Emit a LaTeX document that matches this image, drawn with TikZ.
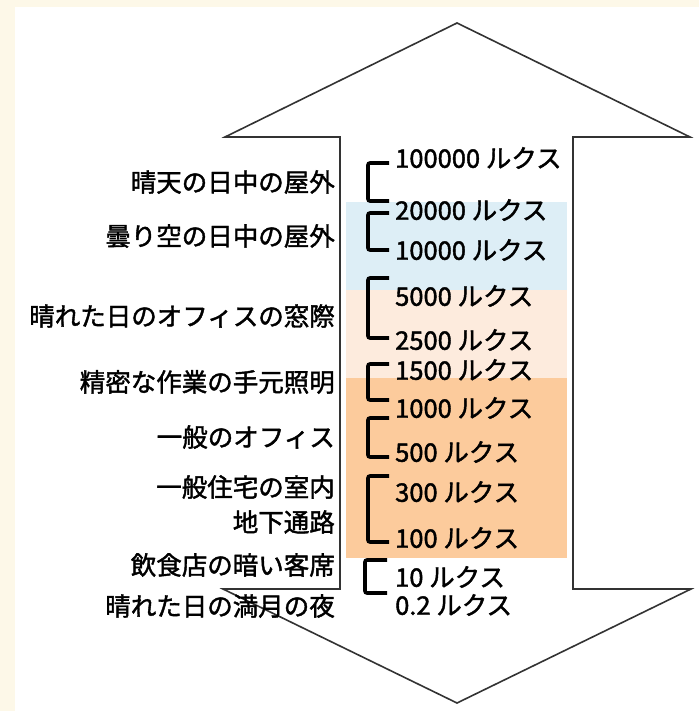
\documentclass[tikz,border=0pt]{standalone}
\usepackage{fontspec}
\setmainfont{Noto Sans CJK JP}[FakeBold=1.6]
\usepackage{xcolor}
\definecolor{cream}{HTML}{FDF8E8}
\definecolor{skyband}{HTML}{DDEEF6}
\definecolor{peachband}{HTML}{FDEBDD}
\definecolor{orangeband}{HTML}{FCCB9C}

\begin{document}
\begin{tikzpicture}[x=1pt,y=-1pt,
    lux/.style={anchor=west,inner sep=0pt,font=\fontsize{25.5}{28}\selectfont},
    place/.style={anchor=east,inner sep=0pt,font=\fontsize{25.5}{28}\selectfont},
    brk/.style={line width=3.6pt,rounded corners=2pt}]
    \useasboundingbox (0,0) rectangle (699,711);
    \fill [cream] (0,0) rectangle (699,711);
    \fill [white] (15,7) rectangle (699,711);

    % double arrow
    \draw [line width=1.6pt,black!80,fill=white] (457,23)--(690,137)--(573,137)--(573,589)--(691,589)
        --(457,703)--(223,589)--(340,589)--(340,137)--(225,137)--cycle;

    % bands
    \fill [skyband] (346,202) rectangle (567,290);
    \fill [peachband] (346,290) rectangle (567,378);
    \fill [orangeband] (346,378) rectangle (567,558);

    % brackets
    \draw [brk] (389,163)--(368,163)--(368,201)--(389,201);
    \draw [brk] (389,213)--(368,213)--(368,250)--(389,250);
    \draw [brk] (389,278)--(368,278)--(368,338)--(389,338);
    \draw [brk] (389,364)--(368,364)--(368,400)--(389,400);
    \draw [brk] (389,418)--(368,418)--(368,457)--(389,457);
    \draw [brk] (389,476)--(368,476)--(368,542)--(389,542);
    \draw [brk] (387,560)--(365,560)--(365,593)--(387,593);

    \node [lux] (L1) at (395,158) {100000 ルクス};
    \node [lux] (L2) at (395,210) {20000 ルクス};
    \node [lux] (L3) at (395,250) {10000 ルクス};
    \node [lux] (L4) at (395,296) {5000 ルクス};
    \node [lux] (L5) at (395,340) {2500 ルクス};
    \node [lux] (L6) at (395,370) {1500 ルクス};
    \node [lux] (L7) at (395,408) {1000 ルクス};
    \node [lux] (L8) at (395,452) {500 ルクス};
    \node [lux] (L9) at (395,492) {300 ルクス};
    \node [lux] (L10) at (395,538) {100 ルクス};
    \node [lux] (L11) at (395,577) {10 ルクス};
    \node [lux] (L12) at (395,605) {0.2 ルクス};

    \node [place] (P1) at (335,182) {晴天の日中の屋外};
    \node [place] (P2) at (335,236) {曇り空の日中の屋外};
    \node [place] (P3) at (335,316) {晴れた日のオフィスの窓際};
    \node [place] (P4) at (335,382) {精密な作業の手元照明};
    \node [place] (P5) at (335,437) {一般のオフィス};
    \node [place] (P6) at (335,487) {一般住宅の室内};
    \node [place] (P7) at (335,522) {地下通路};
    \node [place] (P8) at (335,565) {飲食店の暗い客席};
    \node [place] (P9) at (335,606) {晴れた日の満月の夜};

\end{tikzpicture}
\end{document}
